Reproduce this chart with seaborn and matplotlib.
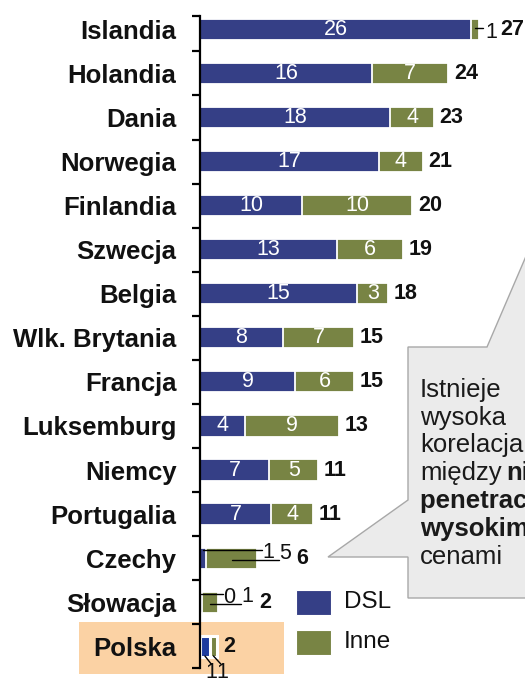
import numpy as np
import pandas as pd
import matplotlib
matplotlib.use("Agg")
import matplotlib.pyplot as plt
import seaborn as sns
from matplotlib.patches import Polygon, Rectangle
from matplotlib.lines import Line2D

# ---------------- data ----------------
countries = ['Islandia', 'Holandia', 'Dania', 'Norwegia', 'Finlandia', 'Szwecja',
             'Belgia', 'Wlk. Brytania', 'Francja', 'Luksemburg', 'Niemcy',
             'Portugalia', 'Czechy', 'Słowacja', 'Polska']
dsl = [26.2, 16.6, 18.4, 17.3, 9.9, 13.2, 15.2, 8.0, 9.2, 4.35, 6.7, 6.9, 0.6, 0.2, 0.95]
inne = [0.8, 7.4, 4.2, 4.2, 10.6, 6.4, 3.0, 6.9, 5.7, 9.1, 4.7, 4.0, 4.9, 1.5, 0.7]
dsl_labels = ['26', '16', '18', '17', '10', '13', '15', '8', '9', '4', '7', '7', '1', '0', '1']
inne_labels = ['1', '7', '4', '4', '10', '6', '3', '7', '6', '9', '5', '4', '5', '1', '1']
total_labels = ['27', '24', '23', '21', '20', '19', '18', '15', '15', '13', '11', '11', '6', '2', '2']
legend_labels = ['DSL', 'Inne']
callout_lines = [('Istnieje', ''), ('wysoka', ''), ('korelacja', ''),
                 ('między', 'niską'), ('', 'penetracją a'), ('', 'wysokimi'),
                 ('cenami', '')]
highlight = 'Polska'

# ---------------- style ----------------
BLUE = '#353f86'
BLUE_HL = '#1e3c9e'
GREEN = '#788444'
sns.set_theme(style='white')
plt.rcParams['font.family'] = ['Liberation Sans', 'DejaVu Sans']

W, H = 525, 679
fig = plt.figure(figsize=(W / 100, H / 100), dpi=100)


def fx(x):
    return x / W


def fy(y):
    return 1 - y / H


ax_left, ax_right, ax_top, ax_bot = 200, 525, 15.7, 668.3
ax = fig.add_axes([fx(ax_left), fy(ax_bot), (ax_right - ax_left) / W, (ax_bot - ax_top) / H])
ax.set_facecolor('none')

df = pd.DataFrame({'country': countries, 'dsl': dsl, 'inne': inne})
df['total'] = df['dsl'] + df['inne']

green_pal = {c: GREEN for c in countries}
blue_pal = {c: (BLUE_HL if c == highlight else BLUE) for c in countries}

sns.barplot(data=df, x='total', y='country', hue='country', palette=green_pal,
            orient='h', width=0.48, saturation=1, edgecolor='white', linewidth=1.3,
            errorbar=None, legend=False, ax=ax)
sns.barplot(data=df, x='dsl', y='country', hue='country', palette=blue_pal,
            orient='h', width=0.48, saturation=1, edgecolor='white', linewidth=1.3,
            errorbar=None, legend=False, ax=ax)

hl_idx = countries.index(highlight)
for p in ax.patches:
    yc = p.get_y() + p.get_height() / 2
    if abs(yc - hl_idx) < 0.1:
        p.set_linewidth(2.2)

px_per_unit = 10.35
ax.set_xlim(0, (ax_right - ax_left) / px_per_unit)
ax.set_ylim(14.5, -0.31)

# axes / ticks
for s in ['top', 'right', 'bottom']:
    ax.spines[s].set_visible(False)
ax.spines['left'].set_color('black')
ax.spines['left'].set_linewidth(1.6)
ax.set_xticks([])
ax.set_xlabel('')
ax.set_ylabel('')
ax.set_yticks(range(len(countries)))
ax.set_yticklabels(countries, fontsize=18.5, fontweight='bold', color='#111111')
ax.tick_params(axis='y', which='major', length=0, pad=17)
ax.set_yticks([-0.31] + [i + 0.5 for i in range(len(countries))], minor=True)
ax.tick_params(axis='y', which='minor', length=6, width=1.6, color='black', direction='out', left=True)

NUM_FS = 15.5

# inside labels
small_rows = {'Czechy', 'Słowacja', 'Polska'}
for i, c in enumerate(countries):
    if c in small_rows:
        continue
    ax.text(dsl[i] / 2, i, dsl_labels[i], ha='center', va='center', color='white', fontsize=NUM_FS)
    if c != 'Islandia':
        ax.text(dsl[i] + inne[i] / 2, i, inne_labels[i], ha='center', va='center',
                color='white', fontsize=NUM_FS)

# leader labels (layout only)
leader_layout = {
    ('Islandia', 'inne'): dict(y0=-0.03, x1=27.35, y1=-0.03, tx=28.1, ty=0.07),
    ('Czechy', 'dsl'): dict(y0=-0.19, x1=5.95, y1=-0.19, tx=6.6, ty=-0.12),
    ('Czechy', 'inne'): dict(y0=0.05, x1=7.63, y1=0.05, tx=8.2, ty=-0.1),
    ('Słowacja', 'dsl'): dict(y0=-0.19, x1=2.25, y1=-0.19, tx=2.8, ty=-0.11),
    ('Słowacja', 'inne'): dict(y0=0.04, x1=4.0, y1=0.04, tx=4.6, ty=-0.13),
    ('Polska', 'dsl'): dict(y0=0.22, dx1=0.6, y1=0.40, dtx=0.58, ty=0.6),
    ('Polska', 'inne'): dict(y0=0.22, dx1=0.7, y1=0.40, dtx=0.82, ty=0.6),
}
for (c, seg), L in leader_layout.items():
    i = countries.index(c)
    if seg == 'dsl':
        xc = dsl[i] / 2
        lab = dsl_labels[i]
    else:
        xc = dsl[i] + inne[i] / 2
        lab = inne_labels[i]
    x1 = L['x1'] if 'x1' in L else xc + L['dx1']
    tx = L['tx'] if 'tx' in L else xc + L['dtx']
    ax.add_line(Line2D([xc, x1], [i + L['y0'], i + L['y1']], color='black', lw=1.0,
                       clip_on=False, zorder=5))
    ax.text(tx, i + L['ty'], lab, ha='center', va='center', fontsize=NUM_FS,
            color='#111111', clip_on=False)

# totals
total_x_override = {'Islandia': 29.0, 'Czechy': 9.34, 'Słowacja': 5.7}
for i, c in enumerate(countries):
    x = total_x_override.get(c, dsl[i] + inne[i] + 0.55)
    ax.text(x, i, total_labels[i], ha='left', va='center', fontsize=NUM_FS,
            fontweight='bold', color='#111111')

# highlight box behind Polska
fig.add_artist(Rectangle((fx(79), fy(674)), (284 - 79) / W, (674 - 622.3) / H,
                         transform=fig.transFigure, facecolor='#fbd2a4',
                         edgecolor='none', zorder=-1))

# legend
for k, (lab, col) in enumerate(zip(legend_labels, [BLUE, GREEN])):
    y_top = 589.5 + k * 40
    fig.add_artist(Rectangle((fx(296), fy(y_top + 25.5)), 35 / W, 25.5 / H,
                             transform=fig.transFigure, facecolor=col,
                             edgecolor='white', lw=0.8, zorder=2))
    fig.text(fx(344), fy(y_top + 13), lab, ha='left', va='center', fontsize=17.5,
             color='#111111')

# callout
pts = [(408, 347), (487, 347), (548, 205), (565, 347), (600, 347), (600, 598),
       (408, 598), (408, 557), (328, 557), (408, 500)]
fig.add_artist(Polygon([(fx(x), fy(y)) for x, y in pts], closed=True,
                       transform=fig.transFigure, facecolor='#ebebeb',
                       edgecolor='#a8a8a8', lw=1.0, zorder=1))

CALL_FS = 18.5
fig.canvas.draw()
renderer = fig.canvas.get_renderer()
for k, (normal, bold) in enumerate(callout_lines):
    yb = fy(396.7 + k * 27.8)
    x0 = fx(420)
    if normal:
        t = fig.text(x0, yb, normal, ha='left', va='baseline', fontsize=CALL_FS,
                     color='#1a1a1a', zorder=3)
        if bold:
            bb = t.get_window_extent(renderer)
            x0 = fx(bb.x1 + 5)
    if bold:
        fig.text(x0, yb, bold, ha='left', va='baseline', fontsize=CALL_FS,
                 fontweight='bold', color='#1a1a1a', zorder=3)

fig.savefig('out.png', dpi=100)
